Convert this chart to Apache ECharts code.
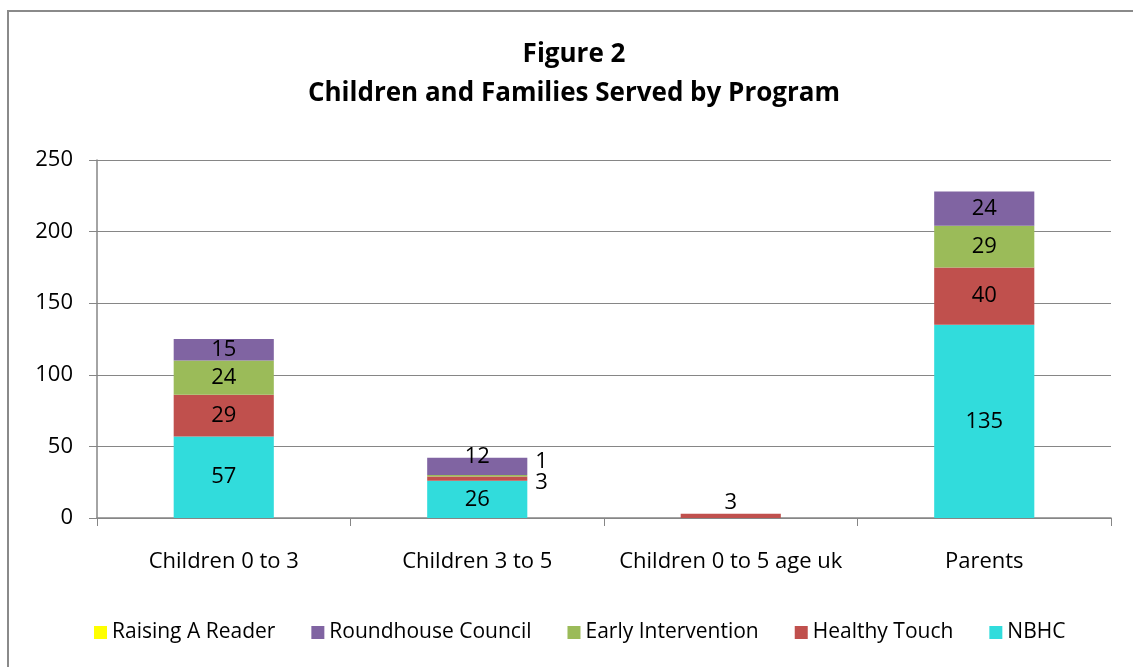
<!DOCTYPE html>
<html>
<head>
<meta charset="utf-8">
<script src="https://cdn.jsdelivr.net/npm/echarts@6/dist/echarts.min.js"></script>
<style>
  html, body { margin: 0; padding: 0; background: #fff; }
  #main { width: 1133px; height: 667px; }
</style>
</head>
<body>
<div id="main"></div>
<script>
// categories and values
var categories = ['Children 0 to 3', 'Children 3 to 5', 'Children 0 to 5 age uk', 'Parents'];
var nbhc = [57, 26, 0, 135];
var healthyTouch = [29, 3, 3, 40];
var earlyIntervention = [24, 1, 0, 29];
var roundhouse = [15, 12, 0, 24];
var raisingReader = [0, 0, 0, 0];
var yTicks = [0, 50, 100, 150, 200, 250];

var FONT = 'Open Sans';
var chart = echarts.init(document.getElementById('main'));

// label tweaks for tiny segments (which category index -> label override)
var labelFix = {
  roundhouse: { 1: { offset: [0, -10] } },
  healthyTouch: { 1: { position: 'right', distance: 8, offset: [0, 4] }, 2: { position: 'top', distance: 0 } },
  earlyIntervention: { 1: { position: 'right', distance: 8, offset: [0, -14] } }
};

function items(values, key) {
  var fix = labelFix[key] || {};
  return values.map(function (v, i) {
    var d = { value: v };
    if (v === 0) d.label = { show: false };
    else if (fix[i]) d.label = fix[i];
    return d;
  });
}

function bar(name, key, values, color) {
  return {
    name: name,
    type: 'bar',
    stack: 'total',
    barWidth: '39.5%',
    data: items(values, key),
    itemStyle: { color: color },
    label: {
      show: true,
      position: 'inside',
      color: '#000',
      fontFamily: FONT,
      fontSize: 22
    },
    emphasis: { disabled: true }
  };
}

var option = {
  animation: false,
  backgroundColor: '#fff',
  textStyle: { fontFamily: FONT },
  title: {
    text: 'Figure 2\nChildren and Families Served by Program',
    left: 569,
    textAlign: 'center',
    top: 30,
    textStyle: { fontFamily: FONT, fontWeight: 'bold', fontSize: 26, lineHeight: 39, color: '#000' }
  },
  legend: {
    bottom: 19,
    left: 89,
    itemWidth: 13,
    itemHeight: 13,
    itemGap: 36,
    icon: 'rect',
    textStyle: { fontFamily: FONT, fontSize: 21, color: '#000' },
    data: ['Raising A Reader', 'Roundhouse Council', 'Early Intervention', 'Healthy Touch', 'NBHC']
  },
  grid: { left: 97, right: 22, top: 160, bottom: 149 },
  xAxis: {
    type: 'category',
    data: categories,
    axisLine: { lineStyle: { color: '#868686', width: 1.5 } },
    axisTick: { show: true, length: 8, lineStyle: { color: '#868686' } },
    axisLabel: { interval: 0, margin: 33, fontFamily: FONT, fontSize: 22, color: '#000' }
  },
  yAxis: {
    type: 'value',
    min: yTicks[0],
    max: yTicks[yTicks.length - 1],
    interval: 50,
    axisLine: { show: true, lineStyle: { color: '#868686', width: 1.5 } },
    axisTick: { show: true, length: 8, lineStyle: { color: '#868686' } },
    axisLabel: { margin: 24, fontFamily: FONT, fontSize: 22, color: '#000' },
    splitLine: { lineStyle: { color: '#868686', width: 1.2 } }
  },
  graphic: [{
    type: 'rect',
    shape: { x: 8, y: 11, width: 1200, height: 800 },
    style: { fill: null, stroke: '#8a8a8a', lineWidth: 2 },
    silent: true
  }],
  series: [
    bar('NBHC', 'nbhc', nbhc, '#31DCDC'),
    bar('Healthy Touch', 'healthyTouch', healthyTouch, '#C0504D'),
    bar('Early Intervention', 'earlyIntervention', earlyIntervention, '#9BBB59'),
    bar('Roundhouse Council', 'roundhouse', roundhouse, '#8064A2'),
    bar('Raising A Reader', 'raisingReader', raisingReader, '#FFFF00')
  ]
};

chart.setOption(option);
</script>
</body>
</html>
